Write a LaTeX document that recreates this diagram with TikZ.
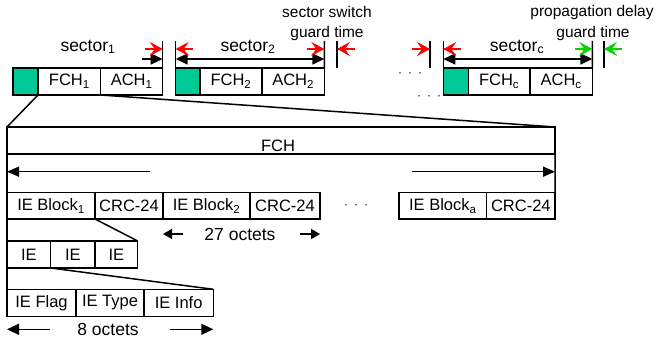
\documentclass[tikz,border=0pt]{standalone}
\usepackage{fontspec}
\setmainfont{Liberation Sans}
\usetikzlibrary{arrows.meta}
\definecolor{hdrgreen}{RGB}{0,200,150}
\definecolor{arrred}{RGB}{255,0,0}
\definecolor{arrgreen}{RGB}{0,215,0}
\begin{document}
\begin{tikzpicture}[x=1pt,y=-1pt,line width=1.5pt,
  box/.style={draw,rectangle,inner sep=0pt,outer sep=0pt,anchor=north west,font=\fontsize{16.5}{18}\selectfont},
  gbox/.style={box,fill=hdrgreen},
  lbl/.style={inner sep=0pt,font=\fontsize{17.5}{19}\selectfont},
  ann/.style={inner sep=0pt,font=\fontsize{15.5}{17}\selectfont},
  oct/.style={inner sep=0pt,font=\fontsize{17.5}{19}\selectfont},
  dotsl/.style={inner sep=0pt,font=\fontsize{12}{14}\selectfont},
  blk/.style={-{Triangle[length=12pt,width=11pt]},line width=1.5pt},
  dblk/.style={{Triangle[length=12pt,width=11pt]}-{Triangle[length=12pt,width=11pt]},line width=1.5pt},
  smallblk/.style={-{Triangle[length=9pt,width=10pt]},line width=1.5pt},
  redarr/.style={-{Stealth[length=13pt,width=14pt,inset=5pt]},draw=arrred,fill=arrred,line width=1.5pt},
  grnarr/.style={-{Stealth[length=13pt,width=14pt,inset=5pt]},draw=arrgreen,fill=arrgreen,line width=1.5pt}]
\useasboundingbox (0,0) rectangle (659,344);

% ---------- top row ----------
\node[gbox,minimum width=25pt,minimum height=27pt] (g1) at (13,68) {};
\node[box,minimum width=62.7pt,minimum height=27pt] (fch1) at (38,68) {FCH\textsubscript{1}};
\node[box,minimum width=62pt,minimum height=27pt] (ach1) at (100.7,68) {ACH\textsubscript{1}};

\node[gbox,minimum width=24.3pt,minimum height=27pt] (g2) at (175.7,68) {};
\node[box,minimum width=62pt,minimum height=27pt] (fch2) at (200,68) {FCH\textsubscript{2}};
\node[box,minimum width=62.3pt,minimum height=27pt] (ach2) at (262,68) {ACH\textsubscript{2}};

\node[gbox,minimum width=25pt,minimum height=27pt] (gc) at (443.3,68) {};
\node[box,minimum width=61.7pt,minimum height=27pt] (fchc) at (468.3,68) {FCH\textsubscript{c}};
\node[box,minimum width=62.3pt,minimum height=27pt] (achc) at (530,68) {ACH\textsubscript{c}};

% boundary markers
\coordinate (t1) at (162.7,41);
\coordinate (t2) at (175.7,41);
\coordinate (t3) at (324.3,41);
\coordinate (t4) at (337,41);
\coordinate (t5) at (430,41);
\coordinate (t6) at (443.3,41);
\coordinate (t7) at (592.3,41);
\coordinate (t8) at (604,41);
\draw (ach1.north east) -- (t1);
\draw (g2.north west) -- (t2);
\draw (ach2.north east) -- (t3);
\draw (t4) -- (337,68);
\draw (t5) -- (430,68);
\draw (gc.north west) -- (t6);
\draw (achc.north east) -- (t7);
\draw (t8) -- (604,68);

% black span arrows
\coordinate (s1a) at (141.7,59); \coordinate (s1b) at (162.7,59);
\draw[blk] (s1a) -- (s1b);
\coordinate (s2a) at (175.7,59); \coordinate (s2b) at (324.3,59);
\draw[dblk] (s2a) -- (s2b);
\coordinate (sca) at (443.3,59); \coordinate (scb) at (592.3,59);
\draw[dblk] (sca) -- (scb);

% red / green guard arrows
\coordinate (r1a) at (145,49); \coordinate (r1b) at (162.7,49);
\coordinate (r2a) at (193,49); \coordinate (r2b) at (175.7,49);
\coordinate (r3a) at (307,49); \coordinate (r3b) at (324.3,49);
\coordinate (r4a) at (355,49); \coordinate (r4b) at (337,49);
\coordinate (r5a) at (412,49); \coordinate (r5b) at (430,49);
\coordinate (r6a) at (461,49); \coordinate (r6b) at (443.3,49);
\coordinate (v1a) at (575,49); \coordinate (v1b) at (592.3,49);
\coordinate (v2a) at (622,49); \coordinate (v2b) at (604,49);
\draw[redarr] (r1a) -- (r1b);
\draw[redarr] (r2a) -- (r2b);
\draw[redarr] (r3a) -- (r3b);
\draw[redarr] (r4a) -- (r4b);
\draw[redarr] (r5a) -- (r5b);
\draw[redarr] (r6a) -- (r6b);
\draw[grnarr] (v1a) -- (v1b);
\draw[grnarr] (v2a) -- (v2b);

% labels
\node[lbl] (ls1) at (88,47) {sector\textsubscript{1}};
\node[lbl] (ls2) at (248,47) {sector\textsubscript{2}};
\node[lbl] (lsc) at (517,47) {sector\textsubscript{c}};
\node[ann] (sw1) at (327,12) {sector switch};
\node[ann] (sw2) at (327,33) {guard time};
\node[ann] (pd1) at (592,12) {propagation delay};
\node[ann] (pd2) at (593,33) {guard time};
\node[dotsl] (d1) at (410,75) {·\hspace{6pt}·\hspace{6pt}·};
\node[dotsl] (d2) at (429,98) {·\hspace{6pt}·\hspace{6pt}·};

% ---------- FCH expansion ----------
\node[box,minimum width=548pt,minimum height=27pt] (fch) at (7,127) {};
\node[box,draw=none,anchor=center] (fchl) at (278,146) {FCH};
\draw (g1.south east) -- (fch.north west);
\draw (ach1.south west) -- (fch.north east);

% IE block row
\node[box,minimum width=88pt,minimum height=26.3pt] (ieb1) at (7,192.7) {IE Block\textsubscript{1}};
\node[box,minimum width=68pt,minimum height=26.3pt] (crc1) at (95,192.7) {CRC-24};
\node[box,minimum width=87pt,minimum height=26.3pt] (ieb2) at (163,192.7) {IE Block\textsubscript{2}};
\node[box,minimum width=70pt,minimum height=26.3pt] (crc2) at (250,192.7) {CRC-24};
\node[box,minimum width=87.7pt,minimum height=26.3pt] (ieba) at (399,192.7) {IE Block\textsubscript{a}};
\node[box,minimum width=68.3pt,minimum height=26.3pt] (crca) at (486.7,192.7) {CRC-24};
\node[dotsl] (d3) at (356,207) {·\hspace{6pt}·\hspace{6pt}·};
\draw (fch.south east) -- (crca.north east);

% FCH span arrows
\coordinate (fa1) at (150,171.7); \coordinate (fa2) at (7,171.7);
\coordinate (fb1) at (412,171.7); \coordinate (fb2) at (555,171.7);
\draw[-{Triangle[length=12pt,width=10pt]},line width=1.5pt] (fa1) -- (fa2);
\draw[-{Triangle[length=12pt,width=10pt]},line width=1.5pt] (fb1) -- (fb2);

% 27 octets
\node[oct] (o27) at (240,234) {27 octets};
\coordinate (oa1) at (183,234); \coordinate (oa2) at (163,234);
\coordinate (ob1) at (300,234); \coordinate (ob2) at (320,234);
\draw[smallblk] (oa1) -- (oa2);
\draw[smallblk] (ob1) -- (ob2);

% IE row
\node[box,minimum width=43.7pt,minimum height=27pt] (ie1) at (7,241) {IE};
\node[box,minimum width=44.3pt,minimum height=27pt] (ie2) at (50.7,241) {IE};
\node[box,minimum width=42.7pt,minimum height=27pt] (ie3) at (95,241) {IE};
\draw (ieb1.south east) -- (ie3.north east);

% IE detail row
\node[box,minimum width=69pt,minimum height=27.4pt] (ief) at (7,289.3) {IE Flag};
\node[box,minimum width=68pt,minimum height=27.4pt] (iet) at (76,289.3) {IE Type};
\node[box,minimum width=69.3pt,minimum height=27.4pt] (iei) at (144,289.3) {IE Info};
\draw (ie1.south east) -- (iei.north east);

% left continuous edge
\draw (fch.north west) -- (ief.south west);

% 8 octets
\node[oct] (o8) at (108,329) {8 octets};
\coordinate (ea1) at (50,329.3); \coordinate (ea2) at (7,329.3);
\coordinate (eb1) at (170,329.3); \coordinate (eb2) at (213.3,329.3);
\draw[blk] (ea1) -- (ea2);
\draw[blk] (eb1) -- (eb2);
\end{tikzpicture}
\end{document}
